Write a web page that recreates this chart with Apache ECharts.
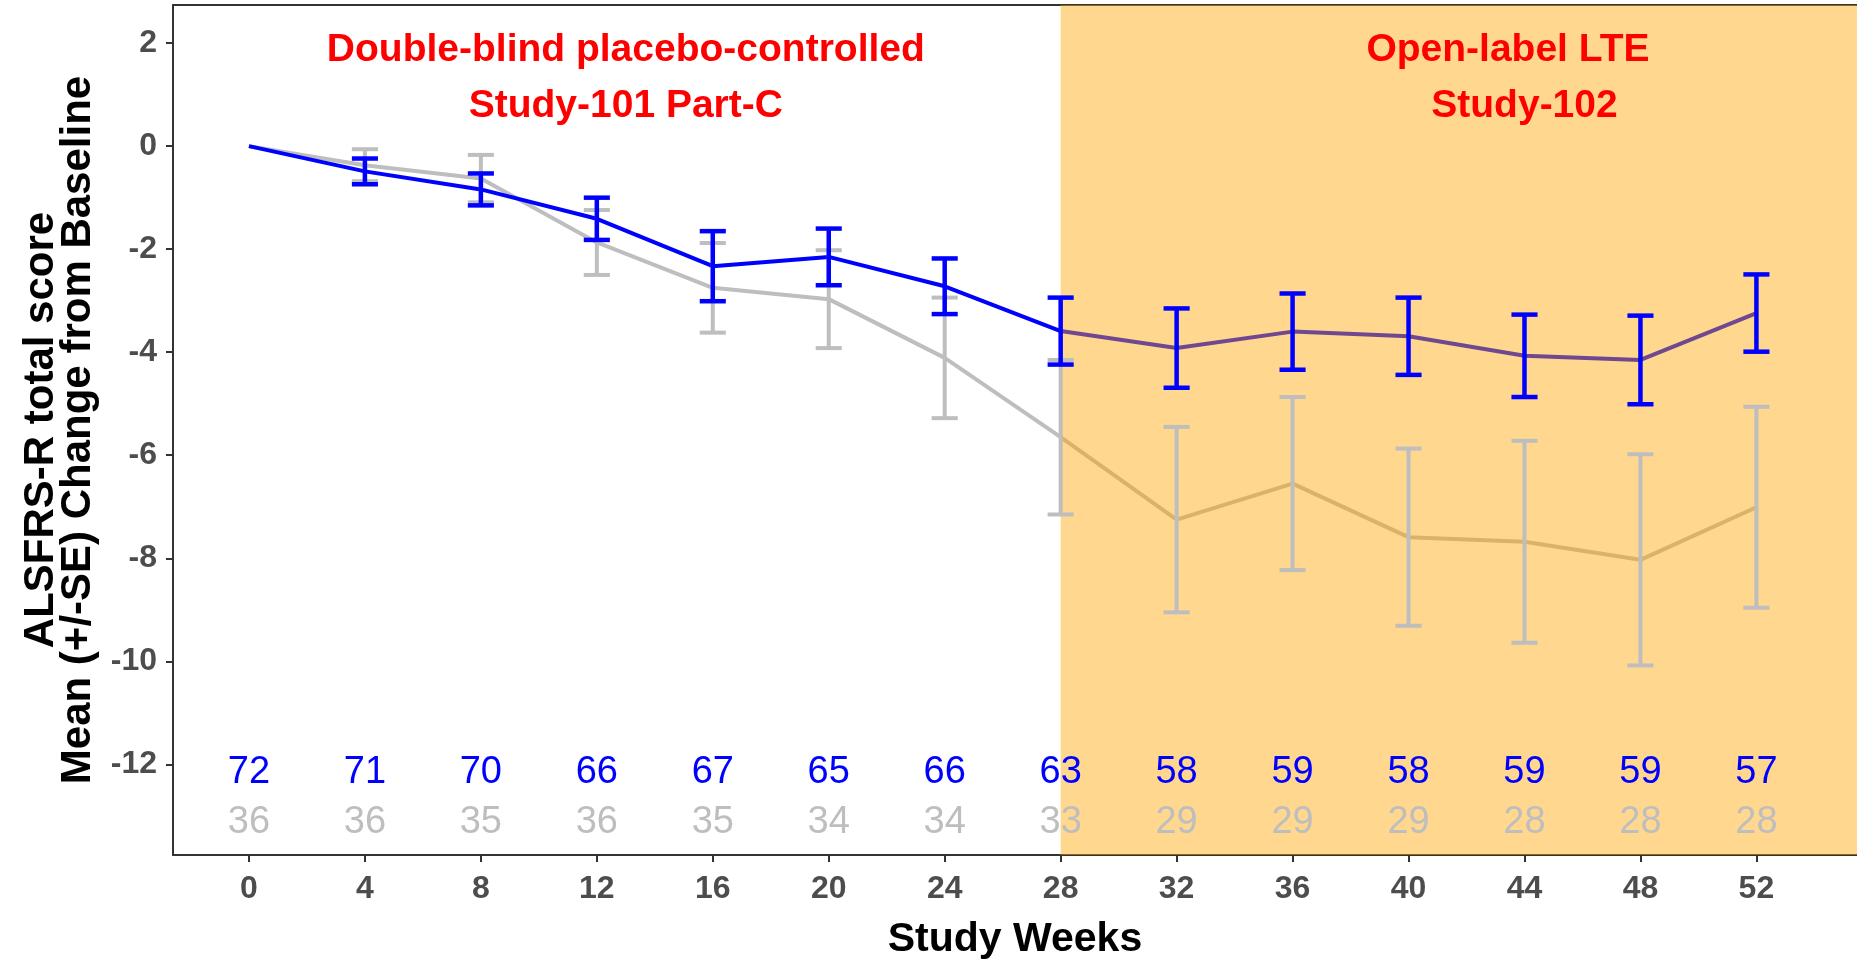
<!DOCTYPE html>
<html><head><meta charset="utf-8">
<script src="https://cdn.jsdelivr.net/npm/echarts@6/dist/echarts.min.js"></script>
<style>html,body{margin:0;padding:0;background:#fff}#c{width:1857px;height:966px}</style>
</head><body><div id="c"></div>
<script>
// ---- data ----
const weeks = [0, 4, 8, 12, 16, 20, 24, 28, 32, 36, 40, 44, 48, 52];
const activeMean = [0, -0.49, -0.84, -1.41, -2.33, -2.15, -2.72, -3.59, -3.92, -3.60, -3.69, -4.07, -4.15, -3.24];
const activeSE   = [0, 0.25, 0.31, 0.41, 0.68, 0.55, 0.54, 0.65, 0.77, 0.74, 0.75, 0.80, 0.86, 0.75];
const placeboMean = [0, -0.37, -0.63, -1.87, -2.75, -2.97, -4.11, -5.65, -7.25, -6.55, -7.59, -7.68, -8.03, -7.01];
const placeboSE   = [0, 0.31, 0.46, 0.63, 0.87, 0.95, 1.17, 1.50, 1.80, 1.68, 1.72, 1.96, 2.05, 1.95];
const activeN  = [72, 71, 70, 66, 67, 65, 66, 63, 58, 59, 58, 59, 59, 57];
const placeboN = [36, 36, 35, 36, 35, 34, 34, 33, 29, 29, 29, 28, 28, 28];
const xTicks = [0, 4, 8, 12, 16, 20, 24, 28, 32, 36, 40, 44, 48, 52];
const yTicks = [2, 0, -2, -4, -6, -8, -10, -12];
const openLabelStart = 28;
const countRowY = [-12.15, -13.12];
const annotX = [[13, 13], [43.43, 44.0]];
const annotY = [1.86, 0.77];
const annotLines = [
  ['Double-blind placebo-controlled', 'Study-101 Part-C'],
  ['Open-label LTE', 'Study-102']
];

// ---- presentation ----
const X_MIN = -2.62, X_MAX = 55.47, Y_MIN = -13.76, Y_MAX = 2.74;
const BLUE = '#0000FF', GREY = '#BEBEBE';
const tickFont = {fontFamily: "'Liberation Sans', Arial, sans-serif", fontWeight: 'bold', fontSize: 32, color: '#4D4D4D'};

function errBarRender(color, width) {
  return function (params, api) {
    const x = api.value(0), lo = api.value(1), hi = api.value(2);
    if (hi === lo) return null;
    const pLo = api.coord([x, lo]), pHi = api.coord([x, hi]);
    const half = api.size([0.9, 0])[0] / 2;
    const st = {stroke: color, lineWidth: width, fill: null};
    return {type: 'group', children: [
      {type: 'line', shape: {x1: pLo[0], y1: pLo[1], x2: pHi[0], y2: pHi[1]}, style: st},
      {type: 'line', shape: {x1: pLo[0] - half, y1: pLo[1], x2: pLo[0] + half, y2: pLo[1]}, style: st},
      {type: 'line', shape: {x1: pHi[0] - half, y1: pHi[1], x2: pHi[0] + half, y2: pHi[1]}, style: st}
    ]};
  };
}

const chart = echarts.init(document.getElementById('c'), null, {renderer: 'canvas'});
chart.setOption({
  animation: false,
  backgroundColor: '#fff',
  grid: {left: 173, right: 0, top: 5, bottom: 111, containLabel: false, outerBoundsMode: 'none'},
  xAxis: [{
    type: 'value', min: X_MIN, max: X_MAX, position: 'bottom',
    axisLine: {show: true, onZero: false, lineStyle: {color: '#333', width: 2}},
    axisTick: {show: true, length: 7, lineStyle: {color: '#333', width: 2}, customValues: xTicks},
    axisLabel: Object.assign({margin: 18, customValues: xTicks}, tickFont),
    splitLine: {show: false},
    name: 'Study Weeks', nameLocation: 'middle', nameGap: 64,
    nameTextStyle: {fontFamily: "'Liberation Sans', Arial, sans-serif", fontWeight: 'bold', fontSize: 41, color: '#000'}
  }, {
    type: 'value', min: X_MIN, max: X_MAX, position: 'top',
    axisLine: {show: true, onZero: false, lineStyle: {color: '#333', width: 2}},
    axisTick: {show: false}, axisLabel: {show: false}, splitLine: {show: false}
  }],
  yAxis: [{
    type: 'value', min: Y_MIN, max: Y_MAX,
    axisLine: {show: true, onZero: false, lineStyle: {color: '#333', width: 2}},
    axisTick: {show: true, length: 7, lineStyle: {color: '#333', width: 2}, customValues: yTicks},
    axisLabel: Object.assign({margin: 16, customValues: yTicks}, tickFont),
    splitLine: {show: false},
    name: 'ALSFRS-R total score\nMean (+/-SE) Change from Baseline',
    nameLocation: 'middle', nameRotate: 90, nameGap: 74,
    nameTextStyle: {fontFamily: "'Liberation Sans', Arial, sans-serif", fontWeight: 'bold', fontSize: 42, lineHeight: 37, color: '#000'}
  }],
  series: [
    {type: 'line', z: 2, symbol: 'none', silent: true,
     data: weeks.map((w, i) => [w, placeboMean[i]]),
     lineStyle: {color: GREY, width: 4}},
    {type: 'line', z: 3, symbol: 'none', silent: true,
     data: weeks.map((w, i) => [w, activeMean[i]]),
     lineStyle: {color: BLUE, width: 4}},
    {type: 'custom', z: 4, silent: true, clip: true,
     data: [[openLabelStart, Y_MAX]],
     encode: {x: 0, y: 1},
     renderItem: function (params, api) {
       const p1 = api.coord([api.value(0), Y_MAX]);
       const p2 = api.coord([X_MAX, Y_MIN]);
       return {type: 'rect', shape: {x: p1[0], y: p1[1], width: p2[0] - p1[0], height: p2[1] - p1[1]},
               style: {fill: 'rgba(255,165,0,0.44)'}};
     }},
    {type: 'custom', z: 5, silent: true,
     data: weeks.map((w, i) => [w, placeboMean[i] - placeboSE[i], placeboMean[i] + placeboSE[i]]),
     encode: {x: 0, y: [1, 2]},
     renderItem: errBarRender(GREY, 4)},
    {type: 'custom', z: 6, silent: true,
     data: weeks.map((w, i) => [w, activeMean[i] - activeSE[i], activeMean[i] + activeSE[i]]),
     encode: {x: 0, y: [1, 2]},
     renderItem: errBarRender(BLUE, 4.5)},
    {type: 'custom', z: 7, silent: true,
     data: weeks.map((w, i) => [w, activeN[i], placeboN[i]]),
     encode: {x: 0},
     renderItem: function (params, api) {
       const w = api.value(0);
       const p1 = api.coord([w, countRowY[0]]), p2 = api.coord([w, countRowY[1]]);
       const font = "38px 'Liberation Sans Narrow', 'Arial Narrow', 'Liberation Sans', sans-serif";
       return {type: 'group', children: [
         {type: 'text', x: p1[0], y: p1[1], style: {text: String(api.value(1)), fill: BLUE, font: font, align: 'center', verticalAlign: 'middle'}},
         {type: 'text', x: p2[0], y: p2[1], style: {text: String(api.value(2)), fill: GREY, font: font, align: 'center', verticalAlign: 'middle'}}
       ]};
     }},
    {type: 'custom', z: 8, silent: true,
     data: annotLines.map((l, i) => [annotX[i][0], i]),
     encode: {x: 0},
     renderItem: function (params, api) {
       const k = api.value(1);
       const font = "bold 39px 'Liberation Sans', Arial, sans-serif";
       return {type: 'group', children: annotLines[k].map((t, j) => {
         const p = api.coord([annotX[k][j], annotY[j]]);
         return {type: 'text', x: p[0], y: p[1], style: {text: t, fill: '#FF0000', font: font, align: 'center', verticalAlign: 'middle'}};
       })};
     }}
  ]
});
</script>
</body></html>
